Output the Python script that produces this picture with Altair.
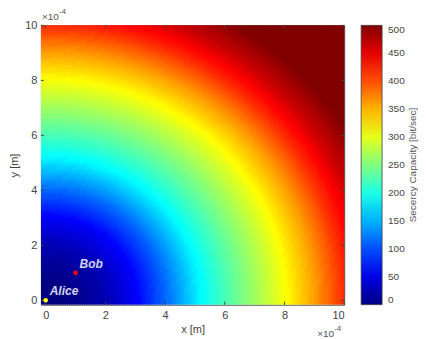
import altair as alt
import numpy as np
import pandas as pd

# Radial profile of secrecy capacity (distance from Alice, in 1e-4 m)
radius = [0, 1, 2, 3, 4, 5.2, 6, 7, 8, 9, 10, 11, 11.8, 14.5]
capacity = [0, 8, 28, 62, 115, 188, 225, 268, 312, 362, 420, 470, 500, 500]

axis_ticks = [0, 2, 4, 6, 8, 10]
cbar_ticks = [0, 50, 100, 150, 200, 250, 300, 350, 400, 450, 500]

node_names = ["Alice", "Bob"]
node_x = [0, 1]
node_y = [0, 1]
node_colors = ["#ffff00", "#ff0000"]

jet_domain = [0, 62.5, 187.5, 312.5, 437.5, 500]
jet_range = ["#000080", "#0000ff", "#00ffff", "#ffff00", "#ff0000", "#800000"]

W, H = 304, 280
LO, HI = -0.16, 10.0
N = 140
level_step = 5

edges = np.linspace(LO, HI, N + 1)
step = edges[1] - edges[0]
cx = (edges[:-1] + edges[1:]) / 2
X0, Y0 = np.meshgrid(edges[:-1], edges[:-1])
CX, CY = np.meshgrid(cx, cx)
R = np.sqrt(np.clip(CX, 0, None) ** 2 + np.clip(CY, 0, None) ** 2)
V = np.interp(R, radius, capacity)
V = np.floor(V / level_step) * level_step
grid = pd.DataFrame({
    "x0": np.round(X0.ravel(), 4), "x1": np.round(X0.ravel() + step * 1.4, 4),
    "y0": np.round(Y0.ravel(), 4), "y1": np.round(Y0.ravel() + step * 1.4, 4),
    "v": V.ravel(),
})

xs = alt.Scale(domain=[LO, HI], nice=False, zero=False)
ys = alt.Scale(domain=[LO, HI], nice=False, zero=False)
cscale = alt.Scale(domain=jet_domain, range=jet_range, interpolate="rgb")

heat = alt.Chart(grid).mark_rect(clip=True).encode(
    x=alt.X("x0:Q", scale=xs, title="x [m]",
            axis=alt.Axis(values=axis_ticks, ticks=False, domain=False, grid=False,
                          labelPadding=5, titlePadding=3)),
    x2="x1:Q",
    y=alt.Y("y0:Q", scale=ys, title="y [m]",
            axis=alt.Axis(values=axis_ticks, ticks=False, domain=False, grid=False,
                          labelPadding=4, titlePadding=5)),
    y2="y1:Q",
    color=alt.Color("v:Q", scale=cscale,
                    legend=alt.Legend(type="gradient", title=None, values=cbar_ticks,
                                      gradientLength=H, gradientThickness=21,
                                      labelFontSize=10, labelOffset=6, offset=17,
                                      labelOverlap=False,
                                      gradientStrokeColor="#444", gradientStrokeWidth=0.8,
                                      direction="vertical")),
)

tick_df = pd.DataFrame({"t": axis_ticks})
tx_bottom = alt.Chart(tick_df).mark_rule(color="#444", strokeWidth=1).encode(
    x=alt.X("t:Q", scale=xs), y=alt.value(H), y2=alt.value(H - 3))
tx_top = alt.Chart(tick_df).mark_rule(color="#444", strokeWidth=1).encode(
    x=alt.X("t:Q", scale=xs), y=alt.value(0), y2=alt.value(3))
ty_left = alt.Chart(tick_df).mark_rule(color="#444", strokeWidth=1).encode(
    y=alt.Y("t:Q", scale=ys), x=alt.value(0), x2=alt.value(3))
ty_right = alt.Chart(tick_df).mark_rule(color="#444", strokeWidth=1).encode(
    y=alt.Y("t:Q", scale=ys), x=alt.value(W), x2=alt.value(W - 3))

nodes = pd.DataFrame({"name": node_names, "x": node_x, "y": node_y, "c": node_colors})
pts = alt.Chart(nodes).mark_circle(size=22, opacity=1).encode(
    x=alt.X("x:Q", scale=xs), y=alt.Y("y:Q", scale=ys),
    color=alt.Color("c:N", scale=None))
lbl = alt.Chart(nodes).mark_text(align="left", baseline="middle", dx=4, dy=-9,
                                 fontSize=12, fontWeight="bold", fontStyle="italic",
                                 color="#d4d4ec").encode(
    x=alt.X("x:Q", scale=xs), y=alt.Y("y:Q", scale=ys), text="name:N")

one = pd.DataFrame({"a": [0]})
def txt(s, x, y, size, angle=0, align="left"):
    return alt.Chart(one).mark_text(text=s, fontSize=size, color="#555", align=align,
                                    baseline="middle", angle=angle).encode(
        x=alt.value(x), y=alt.value(y))

extras = [
    txt("×10", 1, -8, 10), txt("-4", 18, -13, 8),
    txt("×10", W - 27, H + 29, 10), txt("-4", W - 10, H + 24, 8),
    txt("Secercy Capacity [bit/sec]", W + 69, H / 2, 10, angle=270, align="center"),
]

chart = alt.layer(heat, tx_bottom, tx_top, ty_left, ty_right, pts, lbl, *extras).properties(
    width=W, height=H, padding=0
).configure_view(stroke="#444", strokeWidth=1).configure_axis(
    labelFont="Liberation Sans", titleFont="Liberation Sans", labelFontSize=11,
    titleFontSize=11, labelColor="#444", titleColor="#444", titleFontWeight="normal"
).configure_legend(labelFont="Liberation Sans", labelColor="#444").configure_text(
    font="Liberation Sans")

chart.save("out.html", embed_options={"renderer": "svg", "actions": False})
